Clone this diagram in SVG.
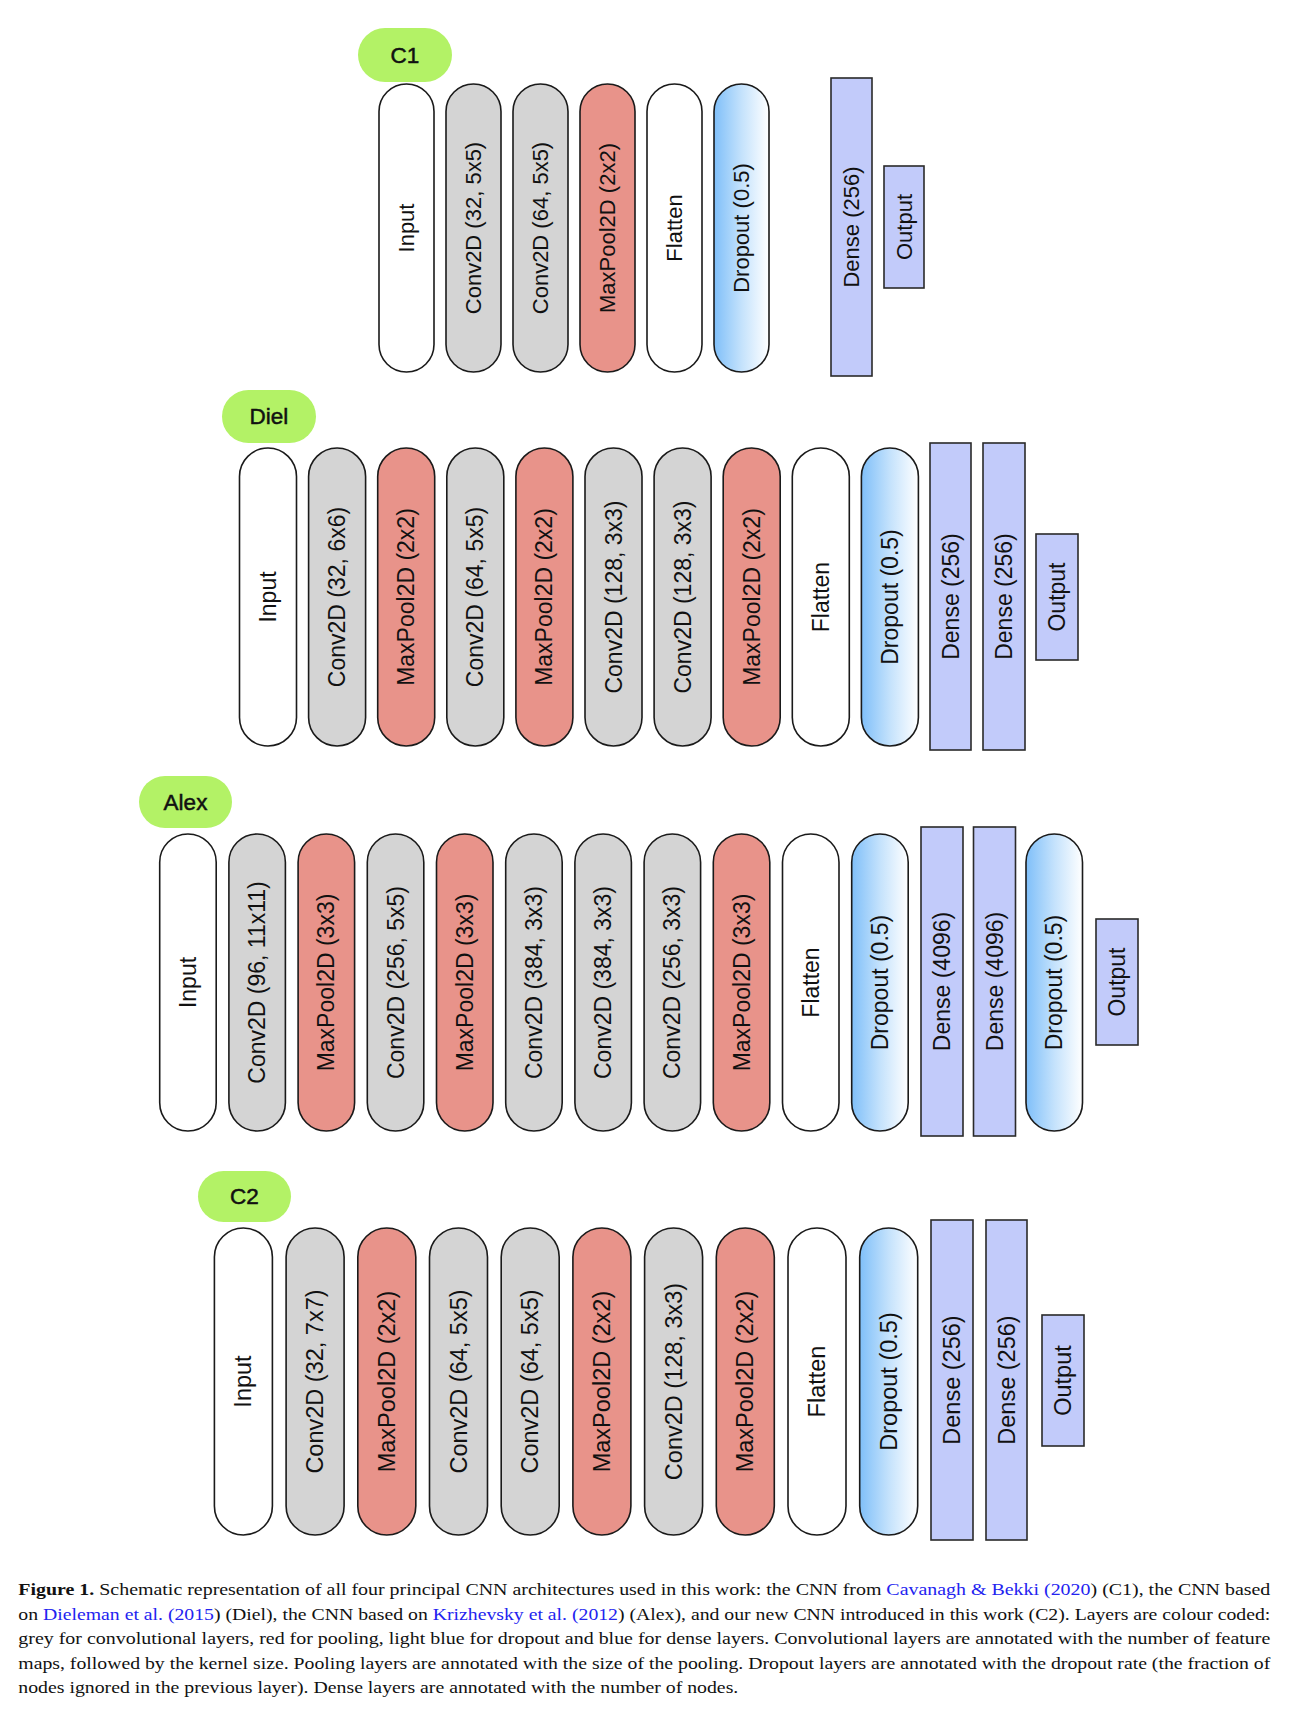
<svg xmlns="http://www.w3.org/2000/svg" width="1300" height="1712" viewBox="0 0 1300 1712">
<defs>
<linearGradient id="dropGrad" x1="0" y1="0" x2="1" y2="0">
<stop offset="0" stop-color="#7fbff9"/>
<stop offset="0.5" stop-color="#c4e2fc"/>
<stop offset="1" stop-color="#ffffff"/>
</linearGradient>
</defs>
<style>
.pill{stroke:#1a1a1a;stroke-width:1.6}
.white{fill:#ffffff}
.conv{fill:#d4d4d4}
.pool{fill:#e8938a}
.drop{fill:url(#dropGrad)}
.dense{fill:#c2cbfa;stroke:#2a2a2a;stroke-width:1.6}
.lab{fill:#b3f266}
.t{font-family:"Liberation Sans",Arial,sans-serif;fill:#111;text-anchor:middle;dominant-baseline:central}
.t22{font-size:22px}
.t23{font-size:23px}
.t24{font-size:23.5px}
.labt{font-family:"Liberation Sans",Arial,sans-serif;font-size:22.5px;fill:#111;stroke:#111;stroke-width:0.5;text-anchor:middle;dominant-baseline:central}
.cap{font-family:"Liberation Serif","Times New Roman",serif;font-size:17.5px;fill:#111}
.lnk{fill:#2323f0}
</style>
<rect x="0" y="0" width="1300" height="1712" fill="#ffffff"/>
<g id="connectors"/>

<!-- C1 -->
<g id="c1">
<g id="c1-label"><rect class="lab" x="358" y="28" width="94" height="54" rx="27"/><text class="labt" x="405" y="55">C1</text></g>
<g id="c1-input"><rect class="pill white" x="379" y="84" width="55" height="288" rx="27.5"/><text class="t t22" transform="rotate(-90 406.5 228)" x="406.5" y="228">Input</text></g>
<g id="c1-conv1"><rect class="pill conv" x="446" y="84" width="55" height="288" rx="27.5"/><text class="t t22" transform="rotate(-90 473.5 228)" x="473.5" y="228">Conv2D (32, 5x5)</text></g>
<g id="c1-conv2"><rect class="pill conv" x="513" y="84" width="55" height="288" rx="27.5"/><text class="t t22" transform="rotate(-90 540.5 228)" x="540.5" y="228">Conv2D (64, 5x5)</text></g>
<g id="c1-pool1"><rect class="pill pool" x="580" y="84" width="55" height="288" rx="27.5"/><text class="t t22" transform="rotate(-90 607.5 228)" x="607.5" y="228">MaxPool2D (2x2)</text></g>
<g id="c1-flatten"><rect class="pill white" x="647" y="84" width="55" height="288" rx="27.5"/><text class="t t22" transform="rotate(-90 674.5 228)" x="674.5" y="228">Flatten</text></g>
<g id="c1-dropout"><rect class="pill drop" x="714" y="84" width="55" height="288" rx="27.5"/><text class="t t22" transform="rotate(-90 741.5 228)" x="741.5" y="228">Dropout (0.5)</text></g>
<g id="c1-dense1"><rect class="dense" x="831" y="78" width="41" height="298"/><text class="t t22" transform="rotate(-90 851.5 227)" x="851.5" y="227">Dense (256)</text></g>
<g id="c1-output"><rect class="dense" x="884" y="166" width="40" height="122"/><text class="t t22" transform="rotate(-90 904 227)" x="904" y="227">Output</text></g>
</g>

<!-- Diel -->
<g id="diel">
<g id="diel-label"><rect class="lab" x="222" y="390" width="94" height="53" rx="26.5"/><text class="labt" x="269" y="416.5">Diel</text></g>
<g id="diel-input"><rect class="pill white" x="239.5" y="448" width="57" height="298" rx="28.5"/><text class="t t23" transform="rotate(-90 268 597)" x="268" y="597">Input</text></g>
<g id="diel-conv1"><rect class="pill conv" x="308.6" y="448" width="57" height="298" rx="28.5"/><text class="t t23" transform="rotate(-90 337.1 597)" x="337.1" y="597">Conv2D (32, 6x6)</text></g>
<g id="diel-pool1"><rect class="pill pool" x="377.7" y="448" width="57" height="298" rx="28.5"/><text class="t t23" transform="rotate(-90 406.2 597)" x="406.2" y="597">MaxPool2D (2x2)</text></g>
<g id="diel-conv2"><rect class="pill conv" x="446.8" y="448" width="57" height="298" rx="28.5"/><text class="t t23" transform="rotate(-90 475.3 597)" x="475.3" y="597">Conv2D (64, 5x5)</text></g>
<g id="diel-pool2"><rect class="pill pool" x="515.9" y="448" width="57" height="298" rx="28.5"/><text class="t t23" transform="rotate(-90 544.4 597)" x="544.4" y="597">MaxPool2D (2x2)</text></g>
<g id="diel-conv3"><rect class="pill conv" x="585" y="448" width="57" height="298" rx="28.5"/><text class="t t23" transform="rotate(-90 613.5 597)" x="613.5" y="597">Conv2D (128, 3x3)</text></g>
<g id="diel-conv4"><rect class="pill conv" x="654.1" y="448" width="57" height="298" rx="28.5"/><text class="t t23" transform="rotate(-90 682.6 597)" x="682.6" y="597">Conv2D (128, 3x3)</text></g>
<g id="diel-pool3"><rect class="pill pool" x="723.2" y="448" width="57" height="298" rx="28.5"/><text class="t t23" transform="rotate(-90 751.7 597)" x="751.7" y="597">MaxPool2D (2x2)</text></g>
<g id="diel-flatten"><rect class="pill white" x="792.3" y="448" width="57" height="298" rx="28.5"/><text class="t t23" transform="rotate(-90 820.8 597)" x="820.8" y="597">Flatten</text></g>
<g id="diel-dropout"><rect class="pill drop" x="861.4" y="448" width="57" height="298" rx="28.5"/><text class="t t23" transform="rotate(-90 889.9 597)" x="889.9" y="597">Dropout (0.5)</text></g>
<g id="diel-dense1"><rect class="dense" x="930" y="443" width="41" height="307"/><text class="t t23" transform="rotate(-90 950.5 596.5)" x="950.5" y="596.5">Dense (256)</text></g>
<g id="diel-dense2"><rect class="dense" x="983" y="443" width="42" height="307"/><text class="t t23" transform="rotate(-90 1004 596.5)" x="1004" y="596.5">Dense (256)</text></g>
<g id="diel-output"><rect class="dense" x="1036" y="534" width="42" height="126"/><text class="t t23" transform="rotate(-90 1057 597)" x="1057" y="597">Output</text></g>
</g>

<!-- Alex -->
<g id="alex">
<g id="alex-label"><rect class="lab" x="139" y="776" width="93" height="52" rx="26"/><text class="labt" x="185.5" y="802">Alex</text></g>
<g id="alex-input"><rect class="pill white" x="159.7" y="834" width="56.5" height="297" rx="28.25"/><text class="t t23" transform="rotate(-90 187.95 982.5)" x="187.95" y="982.5">Input</text></g>
<g id="alex-conv1"><rect class="pill conv" x="228.9" y="834" width="56.5" height="297" rx="28.25"/><text class="t t23" transform="rotate(-90 257.15 982.5)" x="257.15" y="982.5">Conv2D (96, 11x11)</text></g>
<g id="alex-pool1"><rect class="pill pool" x="298.1" y="834" width="56.5" height="297" rx="28.25"/><text class="t t23" transform="rotate(-90 326.35 982.5)" x="326.35" y="982.5">MaxPool2D (3x3)</text></g>
<g id="alex-conv2"><rect class="pill conv" x="367.3" y="834" width="56.5" height="297" rx="28.25"/><text class="t t23" transform="rotate(-90 395.55 982.5)" x="395.55" y="982.5">Conv2D (256, 5x5)</text></g>
<g id="alex-pool2"><rect class="pill pool" x="436.5" y="834" width="56.5" height="297" rx="28.25"/><text class="t t23" transform="rotate(-90 464.75 982.5)" x="464.75" y="982.5">MaxPool2D (3x3)</text></g>
<g id="alex-conv3"><rect class="pill conv" x="505.7" y="834" width="56.5" height="297" rx="28.25"/><text class="t t23" transform="rotate(-90 533.95 982.5)" x="533.95" y="982.5">Conv2D (384, 3x3)</text></g>
<g id="alex-conv4"><rect class="pill conv" x="574.9" y="834" width="56.5" height="297" rx="28.25"/><text class="t t23" transform="rotate(-90 603.15 982.5)" x="603.15" y="982.5">Conv2D (384, 3x3)</text></g>
<g id="alex-conv5"><rect class="pill conv" x="644.1" y="834" width="56.5" height="297" rx="28.25"/><text class="t t23" transform="rotate(-90 672.35 982.5)" x="672.35" y="982.5">Conv2D (256, 3x3)</text></g>
<g id="alex-pool3"><rect class="pill pool" x="713.3" y="834" width="56.5" height="297" rx="28.25"/><text class="t t23" transform="rotate(-90 741.55 982.5)" x="741.55" y="982.5">MaxPool2D (3x3)</text></g>
<g id="alex-flatten"><rect class="pill white" x="782.5" y="834" width="56.5" height="297" rx="28.25"/><text class="t t23" transform="rotate(-90 810.75 982.5)" x="810.75" y="982.5">Flatten</text></g>
<g id="alex-dropout1"><rect class="pill drop" x="851.7" y="834" width="56.5" height="297" rx="28.25"/><text class="t t23" transform="rotate(-90 879.95 982.5)" x="879.95" y="982.5">Dropout (0.5)</text></g>
<g id="alex-dense1"><rect class="dense" x="921" y="827" width="42" height="309"/><text class="t t23" transform="rotate(-90 942 981.5)" x="942" y="981.5">Dense (4096)</text></g>
<g id="alex-dense2"><rect class="dense" x="973.5" y="827" width="42" height="309"/><text class="t t23" transform="rotate(-90 994.5 981.5)" x="994.5" y="981.5">Dense (4096)</text></g>
<g id="alex-dropout2"><rect class="pill drop" x="1026" y="834" width="56.5" height="297" rx="28.25"/><text class="t t23" transform="rotate(-90 1054.25 982.5)" x="1054.25" y="982.5">Dropout (0.5)</text></g>
<g id="alex-output"><rect class="dense" x="1096" y="919" width="42" height="126"/><text class="t t23" transform="rotate(-90 1117 982)" x="1117" y="982">Output</text></g>
</g>

<!-- C2 -->
<g id="c2">
<g id="c2-label"><rect class="lab" x="198" y="1171" width="93" height="51" rx="25.5"/><text class="labt" x="244.5" y="1196.5">C2</text></g>
<g id="c2-input"><rect class="pill white" x="214.4" y="1228" width="58" height="307" rx="29"/><text class="t t24" transform="rotate(-90 243.4 1381.5)" x="243.4" y="1381.5">Input</text></g>
<g id="c2-conv1"><rect class="pill conv" x="286.1" y="1228" width="58" height="307" rx="29"/><text class="t t24" transform="rotate(-90 315.1 1381.5)" x="315.1" y="1381.5">Conv2D (32, 7x7)</text></g>
<g id="c2-pool1"><rect class="pill pool" x="357.8" y="1228" width="58" height="307" rx="29"/><text class="t t24" transform="rotate(-90 386.8 1381.5)" x="386.8" y="1381.5">MaxPool2D (2x2)</text></g>
<g id="c2-conv2"><rect class="pill conv" x="429.5" y="1228" width="58" height="307" rx="29"/><text class="t t24" transform="rotate(-90 458.5 1381.5)" x="458.5" y="1381.5">Conv2D (64, 5x5)</text></g>
<g id="c2-conv3"><rect class="pill conv" x="501.2" y="1228" width="58" height="307" rx="29"/><text class="t t24" transform="rotate(-90 530.2 1381.5)" x="530.2" y="1381.5">Conv2D (64, 5x5)</text></g>
<g id="c2-pool2"><rect class="pill pool" x="572.9" y="1228" width="58" height="307" rx="29"/><text class="t t24" transform="rotate(-90 601.9 1381.5)" x="601.9" y="1381.5">MaxPool2D (2x2)</text></g>
<g id="c2-conv4"><rect class="pill conv" x="644.6" y="1228" width="58" height="307" rx="29"/><text class="t t24" transform="rotate(-90 673.6 1381.5)" x="673.6" y="1381.5">Conv2D (128, 3x3)</text></g>
<g id="c2-pool3"><rect class="pill pool" x="716.3" y="1228" width="58" height="307" rx="29"/><text class="t t24" transform="rotate(-90 745.3 1381.5)" x="745.3" y="1381.5">MaxPool2D (2x2)</text></g>
<g id="c2-flatten"><rect class="pill white" x="788" y="1228" width="58" height="307" rx="29"/><text class="t t24" transform="rotate(-90 817 1381.5)" x="817" y="1381.5">Flatten</text></g>
<g id="c2-dropout"><rect class="pill drop" x="859.7" y="1228" width="58" height="307" rx="29"/><text class="t t24" transform="rotate(-90 888.7 1381.5)" x="888.7" y="1381.5">Dropout (0.5)</text></g>
<g id="c2-dense1"><rect class="dense" x="931" y="1220" width="42" height="320"/><text class="t t24" transform="rotate(-90 952 1380)" x="952" y="1380">Dense (256)</text></g>
<g id="c2-dense2"><rect class="dense" x="986" y="1220" width="41" height="320"/><text class="t t24" transform="rotate(-90 1006.5 1380)" x="1006.5" y="1380">Dense (256)</text></g>
<g id="c2-output"><rect class="dense" x="1042" y="1315" width="42" height="131"/><text class="t t24" transform="rotate(-90 1063 1380.5)" x="1063" y="1380.5">Output</text></g>
</g>

<!-- Caption -->
<g id="caption">
<text class="cap" x="18.3" y="1595" textLength="1252" lengthAdjust="spacingAndGlyphs"><tspan font-weight="bold">Figure 1.</tspan> Schematic representation of all four principal CNN architectures used in this work: the CNN from <tspan class="lnk">Cavanagh &amp; Bekki (2020</tspan>) (C1), the CNN based</text>
<text class="cap" x="18.3" y="1619.6" textLength="1252" lengthAdjust="spacingAndGlyphs">on <tspan class="lnk">Dieleman et al. (2015</tspan>) (Diel), the CNN based on <tspan class="lnk">Krizhevsky et al. (2012</tspan>) (Alex), and our new CNN introduced in this work (C2). Layers are colour coded:</text>
<text class="cap" x="18.3" y="1644.2" textLength="1252" lengthAdjust="spacingAndGlyphs">grey for convolutional layers, red for pooling, light blue for dropout and blue for dense layers. Convolutional layers are annotated with the number of feature</text>
<text class="cap" x="18.3" y="1668.8" textLength="1252" lengthAdjust="spacingAndGlyphs">maps, followed by the kernel size. Pooling layers are annotated with the size of the pooling. Dropout layers are annotated with the dropout rate (the fraction of</text>
<text class="cap" x="18.3" y="1693.4" textLength="720" lengthAdjust="spacingAndGlyphs">nodes ignored in the previous layer). Dense layers are annotated with the number of nodes.</text>
</g>
</svg>
